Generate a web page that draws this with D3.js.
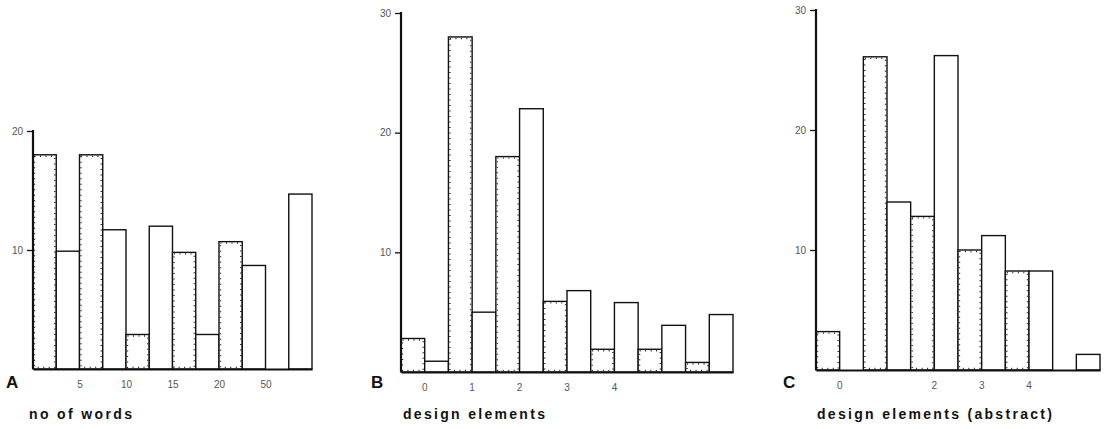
<!DOCTYPE html>
<html>
<head>
<meta charset="utf-8">
<script src="https://cdn.jsdelivr.net/npm/d3@7"></script>
<style>
  html, body { margin: 0; padding: 0; background: #fff; }
  svg { display: block; }
  .tick text { font-family: "Liberation Sans", Arial, sans-serif; font-size: 10px; fill: #555; }
  .letter { font-family: "Liberation Sans", Arial, sans-serif; font-weight: bold; font-size: 17px; fill: #111; }
  .title { font-family: "Liberation Sans", Arial, sans-serif; font-weight: bold; font-size: 14px; fill: #111; }
</style>
</head>
<body>
<svg id="chart" width="1104" height="429"></svg>
<script>
// Panel A: number of words, bins bounded by these edges
const wordEdges = ["5", "10", "15", "20", "50"];
const wordsDotted = [18, 18, 2.9, 9.8, 10.7, 0];
const wordsSolid  = [9.9, 11.7, 12.0, 2.9, 8.7, 14.7];
const wordsYTicks = [10, 20];

// Panel B: design elements
const designLabels = ["0", "1", "2", "3", "4", "", ""];
const designDotted = [2.8, 28, 18, 5.9, 1.9, 1.9, 0.8];
const designSolid  = [0.9, 5.0, 22, 6.8, 5.8, 3.9, 4.8];
const designYTicks = [10, 20, 30];

// Panel C: design elements (abstract)
const abstractLabels = ["0", "", "2", "3", "4", ""];
const abstractDotted = [3.2, 26.1, 12.8, 10.0, 8.25, 0];
const abstractSolid  = [0, 14.0, 26.2, 11.2, 8.25, 1.3];
const abstractYTicks = [10, 20, 30];

const svg = d3.select("#chart");

function drawPanel(cfg) {
  const g = svg.append("g");
  const n = cfg.dotted.length;
  const y = d3.scaleLinear().domain([0, cfg.yMax]).range([cfg.base, cfg.top]);
  const x = d3.scaleBand().domain(d3.range(n)).range([cfg.x0, cfg.x1]).paddingInner(0).paddingOuter(0);
  const sub = d3.scaleBand().domain(["dotted", "solid"]).range([0, x.bandwidth()]);

  const bars = [];
  for (let i = 0; i < n; i++) {
    bars.push({ i, kind: "dotted", v: cfg.dotted[i] });
    bars.push({ i, kind: "solid", v: cfg.solid[i] });
  }
  const shown = bars.filter(d => d.v > 0);

  // outlines of every bar
  g.selectAll("rect.bar").data(shown).join("rect")
    .attr("class", "bar")
    .attr("x", d => x(d.i) + sub(d.kind))
    .attr("y", d => y(d.v))
    .attr("width", sub.bandwidth())
    .attr("height", d => y(0) - y(d.v))
    .attr("fill", "#fff")
    .attr("stroke", "#111")
    .attr("stroke-width", 1.4);

  // stippled inner edge for the dotted group
  g.selectAll("rect.dots").data(shown.filter(d => d.kind === "dotted")).join("rect")
    .attr("class", "dots")
    .attr("x", d => x(d.i) + sub(d.kind) + 1.5)
    .attr("y", d => y(d.v) + 1.5)
    .attr("width", sub.bandwidth() - 3)
    .attr("height", d => Math.max(0, y(0) - y(d.v) - 3))
    .attr("fill", "none")
    .attr("stroke", "#222")
    .attr("stroke-width", 1.4)
    .attr("stroke-dasharray", "1 4.5");

  // vertical axis
  const yAxis = d3.axisLeft(y).tickValues(cfg.yTicks).tickSize(6).tickSizeOuter(0).tickPadding(4)
    .tickFormat(d3.format("d"));
  const ya = g.append("g").attr("transform", `translate(${cfg.x0},0)`).call(yAxis);
  ya.select(".domain").attr("stroke", "#111").attr("stroke-width", 2.2)
    .attr("d", `M0,${cfg.top - 1}V${cfg.base}`);
  ya.selectAll(".tick line").attr("stroke", "#111").attr("stroke-width", 1.3);

  // baseline and category labels
  let xa;
  if (cfg.edgeLabels) {
    const xe = d3.scaleLinear().domain([0, n]).range([cfg.x0, cfg.x1]);
    xa = g.append("g").attr("transform", `translate(0,${cfg.base})`)
      .call(d3.axisBottom(xe).tickValues(d3.range(1, n)).tickSize(0).tickSizeOuter(0).tickPadding(12)
        .tickFormat(d => cfg.edgeLabels[d - 1]));
  } else {
    xa = g.append("g").attr("transform", `translate(0,${cfg.base})`)
      .call(d3.axisBottom(x).tickSize(0).tickSizeOuter(0).tickPadding(12)
        .tickFormat(d => cfg.labels[d]));
  }
  xa.select(".domain").attr("stroke", "#111").attr("stroke-width", 2);

  g.append("text").attr("class", "letter").attr("x", cfg.letterX).attr("y", 388).text(cfg.letter);
  g.append("text").attr("class", "title").attr("x", cfg.titleX).attr("y", 419)
    .attr("textLength", cfg.titleW).attr("lengthAdjust", "spacing").text(cfg.title);
}

drawPanel({
  letter: "A", letterX: 6, title: "no  of  words", titleX: 29, titleW: 103,
  dotted: wordsDotted, solid: wordsSolid, edgeLabels: wordEdges, yTicks: wordsYTicks,
  yMax: 20, top: 131, base: 369, x0: 33, x1: 312
});
drawPanel({
  letter: "B", letterX: 371, title: "design  elements", titleX: 403, titleW: 142,
  dotted: designDotted, solid: designSolid, labels: designLabels, yTicks: designYTicks,
  yMax: 30, top: 13, base: 372, x0: 401, x1: 733
});
drawPanel({
  letter: "C", letterX: 783, title: "design  elements  (abstract)", titleX: 817, titleW: 235,
  dotted: abstractDotted, solid: abstractSolid, labels: abstractLabels, yTicks: abstractYTicks,
  yMax: 30, top: 10, base: 370, x0: 816, x1: 1100
});
</script>
</body>
</html>
